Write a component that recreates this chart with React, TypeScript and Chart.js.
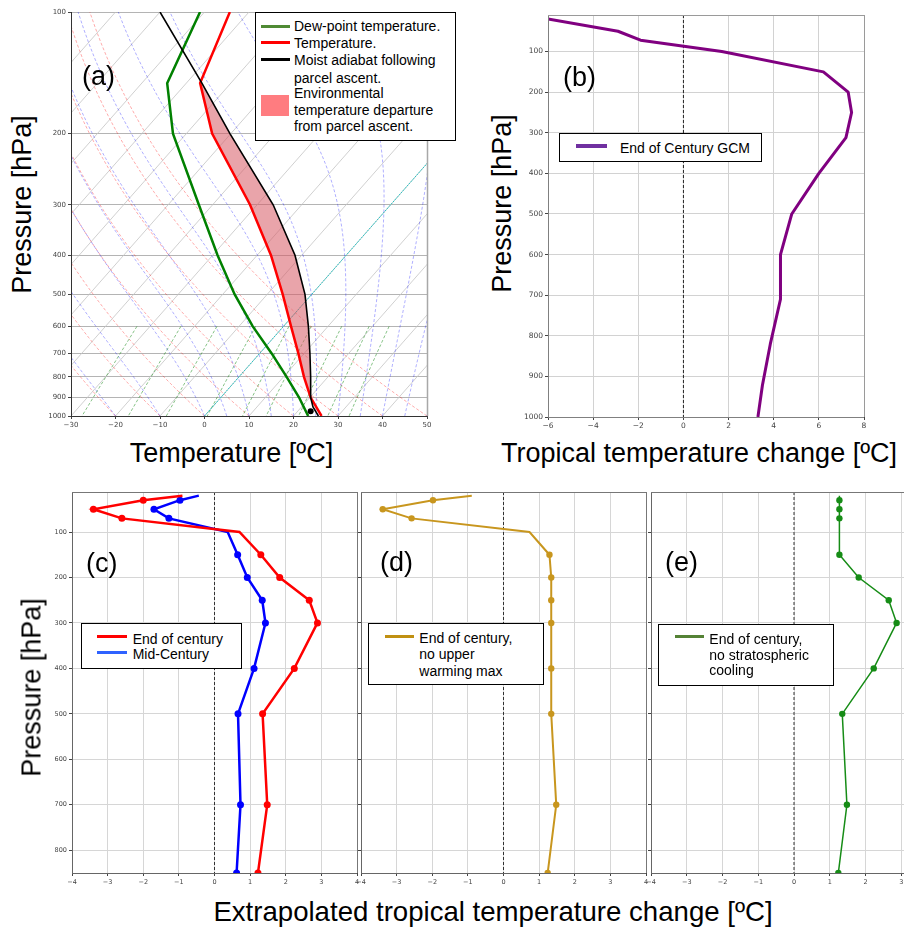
import React, { useEffect, useRef } from 'react';
import { Chart, registerables } from 'chart.js';

Chart.register(...registerables);

// ---------------- Panel (a): skew-T sounding ----------------
const SOUNDING_P = [1000, 900, 800, 700, 600, 500, 400, 300, 200, 150, 100];
const SOUNDING_T = [26.3, 20.2, 14.6, 8.7, 1.7, -6.5, -16.9, -31.6, -54.2, -66.9, -74.3];
const SOUNDING_TD = [23.3, 17.6, 10.7, 2.7, -6.9, -17.3, -28.9, -43.1, -63.0, -74.3, -81.0];
const PARCEL_P = [1000, 950, 900, 800, 700, 600, 500, 400, 300, 200, 150, 100];
const PARCEL_T = [25.6, 22.6, 20.2, 16.1, 11.3, 5.6, -1.5, -11.5, -26.4, -50.2, -66.5, -90.0];
const LCL_P = [973];
const LCL_T = [22.9];
const DEPARTURE_TOP = 150;
const DEPARTURE_BOTTOM = 900;
const SKEW_X_TICKS = [-30, -20, -10, 0, 10, 20, 30, 40, 50];
const SKEW_P_TICKS = [100, 200, 300, 400, 500, 600, 700, 800, 900, 1000];
const ISOTHERMS = [-110, -100, -90, -80, -70, -60, -50, -40, -30, -20, -10, 0, 10, 20, 30, 40, 50];
const DRY_ADIABAT_T0 = [-30, -20, -10, 0, 10, 20, 30, 40, 50];
const MOIST_ADIABAT_T0 = [-30, -20, -10, 0, 5, 10, 15, 20, 25, 30, 35, 40, 45, 50];
const MIXING_RATIOS = [0.0004, 0.001, 0.002, 0.004, 0.007, 0.01, 0.016, 0.024, 0.032];
const MIXING_P = [600, 650, 700, 750, 800, 850, 900, 950, 1000];

// ---------------- Panel (b): GCM profile ----------------
const GCM_P = [20, 50, 72, 100, 150, 200, 250, 312, 400, 500, 600, 710, 820, 922, 1000];
const GCM_DT = [-6.0, -2.9, -1.9, 1.7, 6.2, 7.3, 7.45, 7.2, 6.0, 4.8, 4.3, 4.3, 3.85, 3.5, 3.3];
const GCM_X_TICKS = [-6, -4, -2, 0, 2, 4, 6, 8];
const GCM_P_TICKS = [100, 200, 300, 400, 500, 600, 700, 800, 900, 1000];

// ---------------- Panels (c)-(e): extrapolated profiles ----------------
const LEVELS = [20, 30, 50, 70, 100, 150, 200, 250, 300, 400, 500, 700, 850];
const MARKED_LEVELS = [30, 50, 70, 150, 200, 250, 300, 400, 500, 700, 850];
const END_CENTURY = [-0.9, -2.0, -3.4, -2.6, 0.7, 1.3, 1.83, 2.66, 2.89, 2.24, 1.35, 1.48, 1.22];
const MID_CENTURY = [-0.44, -0.97, -1.7, -1.28, 0.37, 0.65, 0.92, 1.34, 1.43, 1.11, 0.66, 0.73, 0.62];
const NO_UPPER_MAX = [-0.89, -1.98, -3.39, -2.58, 0.73, 1.29, 1.34, 1.34, 1.34, 1.34, 1.34, 1.48, 1.24];
const NO_STRAT_COOLING = [1.27, 1.27, 1.27, 1.27, 1.27, 1.27, 1.81, 2.65, 2.87, 2.23, 1.35, 1.48, 1.24];
const EXT_X_TICKS = [-4, -3, -2, -1, 0, 1, 2, 3, 4];
const EXT_P_TICKS = [100, 200, 300, 400, 500, 600, 700, 800];

// ---------------- helpers ----------------
const SKEW = 80; // degC of x shift per decade of pressure (45deg in axes coords)
const RD = 287.04749, CPD = 1004.6662, LV = 2.50084e6, EPS = 0.6219569;
const TICK_FONT = '"DejaVu Sans", sans-serif';
const TEXT_FONT = '"Liberation Sans", Arial, sans-serif';
const CLEAR = 'rgba(0,0,0,0)';

const skewPt = (p: number, t: number) => ({ x: t + SKEW * Math.log10(1000 / p), y: p });
const fmt = (v: number) => (v < 0 ? '\u2212' + Math.abs(v) : String(v));

function satMix(p: number, tK: number) {
  const tc = tK - 273.15;
  const es = 6.112 * Math.exp((17.67 * tc) / (tc + 243.5));
  return (EPS * es) / (p - es);
}
function moistDTdp(p: number, tK: number) {
  const rs = satMix(p, tK);
  return (RD * tK + LV * rs) / (CPD + (LV * LV * rs * EPS) / (RD * tK * tK)) / p;
}
function moistAdiabat(t0: number) {
  let T = t0 + 273.15;
  let p = 1000;
  const h = -10;
  const pts = [skewPt(p, t0)];
  while (p > 100) {
    const k1 = moistDTdp(p, T);
    const k2 = moistDTdp(p + h / 2, T + (h / 2) * k1);
    const k3 = moistDTdp(p + h / 2, T + (h / 2) * k2);
    const k4 = moistDTdp(p + h, T + h * k3);
    T += (h / 6) * (k1 + 2 * k2 + 2 * k3 + k4);
    p += h;
    pts.push(skewPt(p, T - 273.15));
  }
  return pts;
}
function dryAdiabat(t0: number) {
  const pts = [];
  for (let p = 1000; p >= 100; p -= 10) {
    pts.push(skewPt(p, (t0 + 273.15) * Math.pow(p / 1000, RD / CPD) - 273.15));
  }
  return pts;
}
function mixingLine(w: number) {
  return MIXING_P.map((p) => {
    const e = (p * w) / (EPS + w);
    const v = Math.log(e / 6.112);
    return skewPt(p, (243.5 * v) / (17.67 - v));
  });
}

const lineDs = (data: any[], color: string, width: number, extra: any = {}) => ({
  data,
  borderColor: color,
  backgroundColor: color,
  borderWidth: width,
  pointRadius: 0,
  fill: false,
  ...extra,
});

const framePlugin = {
  id: 'frame',
  afterDatasetsDraw(chart: any, _a: any, opts: any) {
    const { left, right, top, bottom } = chart.chartArea;
    const ctx = chart.ctx;
    const a = (v: number) => Math.round(v) + 0.5;
    const sides: [string, number, number, number, number][] = [
      ['left', a(left), top, a(left), bottom],
      ['right', a(right), top, a(right), bottom],
      ['top', left, a(top), right, a(top)],
      ['bottom', left, a(bottom), right, a(bottom)],
    ];
    ctx.save();
    for (const [k, x1, y1, x2, y2] of sides) {
      const c = opts && opts[k];
      if (!c) continue;
      ctx.strokeStyle = c;
      ctx.lineWidth = (opts.widths && opts.widths[k]) || 1;
      ctx.beginPath();
      ctx.moveTo(x1, y1);
      ctx.lineTo(x2, y2);
      ctx.stroke();
    }
    ctx.restore();
  },
};

function xAxis(o: any) {
  return {
    type: 'linear',
    min: o.min,
    max: o.max,
    afterBuildTicks: (s: any) => {
      s.ticks = o.ticks.map((v: number) => ({ value: v }));
    },
    afterFit: (s: any) => {
      s.height = 16;
    },
    ticks: {
      font: { family: TICK_FONT, size: o.font },
      color: '#444',
      padding: 2,
      maxRotation: 0,
      minRotation: 0,
      autoSkip: false,
      callback: (v: any) => fmt(Number(v)),
    },
    grid: {
      color: o.grid || CLEAR,
      drawOnChartArea: !!o.grid,
      tickColor: '#444',
      tickLength: 3,
      lineWidth: 1,
    },
    border: { display: false },
  };
}

function yAxis(o: any) {
  return {
    type: o.type,
    min: o.min,
    max: o.max,
    reverse: true,
    afterBuildTicks: (s: any) => {
      s.ticks = o.ticks.map((v: number) => ({ value: v }));
    },
    afterFit: (s: any) => {
      s.width = o.width;
    },
    ticks: {
      display: o.labels,
      font: { family: TICK_FONT, size: o.font },
      color: '#444',
      padding: 2,
      autoSkip: false,
      callback: (v: any) => String(v),
    },
    grid: { color: o.grid || CLEAR, tickColor: '#444', tickLength: 3, lineWidth: 1 },
    border: { display: false },
  };
}

function baseOptions(scales: any, frame: any) {
  return {
    responsive: false,
    animation: false,
    devicePixelRatio: 1,
    events: [],
    layout: { padding: { top: 10, right: 8, left: 0, bottom: 0 } },
    plugins: { legend: { display: false }, tooltip: { enabled: false }, frame },
    scales,
  };
}

function makeSkewT() {
  const layers: any[] = []; // bottom to top
  ISOTHERMS.forEach((t) => layers.push(lineDs([skewPt(1000, t), skewPt(100, t)], '#c4c4c4', 0.8)));
  DRY_ADIABAT_T0.forEach((t) =>
    layers.push(lineDs(dryAdiabat(t), 'rgba(255,0,0,0.42)', 0.8, { borderDash: [3, 2] }))
  );
  MOIST_ADIABAT_T0.forEach((t) =>
    layers.push(lineDs(moistAdiabat(t), 'rgba(0,0,255,0.4)', 0.8, { borderDash: [3, 2] }))
  );
  MIXING_RATIOS.forEach((w) =>
    layers.push(lineDs(mixingLine(w), 'rgba(0,128,0,0.6)', 0.8, { borderDash: [3, 2] }))
  );
  layers.push(lineDs([skewPt(1000, 0), skewPt(100, 0)], 'rgba(0,190,190,0.9)', 0.9, { borderDash: [2, 1] }));

  const parcelPart = PARCEL_P.map((p, i) => ({ p, t: PARCEL_T[i] })).filter(
    (d) => d.p >= DEPARTURE_TOP && d.p <= DEPARTURE_BOTTOM
  );
  const envPart = SOUNDING_P.map((p, i) => ({ p, t: SOUNDING_T[i] }))
    .filter((d) => d.p >= DEPARTURE_TOP && d.p <= DEPARTURE_BOTTOM)
    .reverse();
  const polygon = [...parcelPart, ...envPart].map((d) => skewPt(d.p, d.t));
  layers.push(lineDs(polygon, CLEAR, 1, { fill: 'shape', backgroundColor: 'rgba(215,90,100,0.55)' }));

  layers.push(lineDs(SOUNDING_P.map((p, i) => skewPt(p, SOUNDING_TD[i])), '#008000', 2.5));
  layers.push(lineDs(SOUNDING_P.map((p, i) => skewPt(p, SOUNDING_T[i])), '#ff0000', 2.5));
  layers.push(lineDs(PARCEL_P.map((p, i) => skewPt(p, PARCEL_T[i])), '#000000', 1.6));
  layers.push(
    lineDs(LCL_P.map((p, i) => skewPt(p, LCL_T[i])), '#000', 0, {
      showLine: false,
      pointRadius: 3,
      pointBorderWidth: 0,
      pointBackgroundColor: '#000',
    })
  );
  return {
    type: 'line',
    data: { datasets: layers.reverse() },
    options: baseOptions(
      {
        x: xAxis({ min: -30, max: 50, ticks: SKEW_X_TICKS, font: 7 }),
        y: yAxis({ type: 'logarithmic', min: 100, max: 1000, ticks: SKEW_P_TICKS, labels: true, font: 7, width: 30, grid: '#b4b4b4' }),
      },
      { left: '#333', bottom: '#333', right: '#a8a8a8', widths: { right: 1.5 } }
    ),
    plugins: [framePlugin],
  };
}

function makeGcm() {
  return {
    type: 'line',
    data: {
      datasets: [
        lineDs(GCM_P.map((p, i) => ({ x: GCM_DT[i], y: p })), '#800080', 3, { borderJoinStyle: 'round' }),
        lineDs([{ x: 0, y: 10 }, { x: 0, y: 1000 }], '#222', 1, { borderDash: [3, 2] }),
      ],
    },
    options: baseOptions(
      {
        x: xAxis({ min: -6, max: 8, ticks: GCM_X_TICKS, font: 7.5, grid: '#d2d2d2' }),
        y: yAxis({ type: 'linear', min: 10, max: 1000, ticks: GCM_P_TICKS, labels: true, font: 7.5, width: 30, grid: '#d2d2d2' }),
      },
      { left: '#808080', bottom: '#808080', right: '#9a9a9a', top: '#9a9a9a' }
    ),
    plugins: [framePlugin],
  };
}

function profileDs(values: number[], color: string, width: number, radius: number) {
  return lineDs(LEVELS.map((p, i) => ({ x: values[i], y: p })), color, width, {
    pointRadius: (ctx: any) => (MARKED_LEVELS.includes(LEVELS[ctx.dataIndex]) ? radius : 0),
    pointBorderWidth: 0,
    pointBackgroundColor: color,
  });
}

function makeExtrap(series: any[], showYLabels: boolean) {
  return {
    type: 'line',
    data: {
      datasets: [
        ...series.map((s) => profileDs(s.values, s.color, s.width, s.radius)),
        lineDs([{ x: 0, y: 12 }, { x: 0, y: 850 }], '#333', 1, { borderDash: [3, 2] }),
      ],
    },
    options: baseOptions(
      {
        x: xAxis({ min: -4, max: 4, ticks: EXT_X_TICKS, font: 6.5, grid: '#d6d6d6' }),
        y: yAxis({ type: 'linear', min: 12, max: 850, ticks: EXT_P_TICKS, labels: showYLabels, font: 6.5, width: showYLabels ? 30 : 10, grid: '#d6d6d6' }),
      },
      { left: '#666', bottom: '#666', right: '#777', top: '#777' }
    ),
    plugins: [framePlugin],
  };
}

function ChartCanvas({ left, top, width, height, make }: any) {
  const ref = useRef<HTMLCanvasElement>(null);
  useEffect(() => {
    const chart = new Chart(ref.current as HTMLCanvasElement, make());
    return () => chart.destroy();
  }, []);
  return (
    <canvas ref={ref} width={width} height={height} style={{ position: 'absolute', left, top, width, height }} />
  );
}

function Text({ children, left, baseline, size = 14, width, align = 'left' }: any) {
  const style: any = {
    position: 'absolute',
    left,
    top: baseline - 0.8465 * size,
    fontSize: size,
    lineHeight: size + 'px',
    height: size,
    whiteSpace: 'nowrap',
    fontFamily: TEXT_FONT,
  };
  if (width !== undefined) {
    style.width = width;
    style.textAlign = align;
  }
  return <div style={style}>{children}</div>;
}

function VText({ children, cx, cy, size = 27 }: any) {
  const w = 320;
  return (
    <div
      style={{
        position: 'absolute',
        left: cx - w / 2,
        top: cy - size / 2,
        width: w,
        height: size,
        lineHeight: size + 'px',
        fontSize: size,
        textAlign: 'center',
        whiteSpace: 'nowrap',
        fontFamily: TEXT_FONT,
        transform: 'rotate(-90deg)',
        transformOrigin: 'center center',
      }}
    >
      {children}
    </div>
  );
}

function Box({ left, top, width, height }: any) {
  return (
    <div
      style={{
        position: 'absolute',
        left,
        top,
        width,
        height,
        boxSizing: 'border-box',
        border: '1px solid #000',
        background: '#fff',
      }}
    />
  );
}

function Swatch({ x1, x2, y, color, thick = 3 }: any) {
  return (
    <div style={{ position: 'absolute', left: x1, top: y - thick / 2, width: x2 - x1, height: thick, background: color }} />
  );
}

export default function App() {
  return (
    <div
      style={{
        position: 'absolute',
        left: 0,
        top: 0,
        width: 904,
        height: 928,
        overflow: 'hidden',
        background: '#fff',
        color: '#000',
        fontFamily: TEXT_FONT,
      }}
    >
      <ChartCanvas left={41} top={2} width={394} height={430} make={makeSkewT} />
      <ChartCanvas left={518} top={5} width={354} height={428} make={makeGcm} />
      <ChartCanvas
        left={42}
        top={482}
        width={323}
        height={407}
        make={() =>
          makeExtrap(
            [
              { values: END_CENTURY, color: '#ff0000', width: 2.5, radius: 3.5 },
              { values: MID_CENTURY, color: '#0000ff', width: 2.5, radius: 3.5 },
            ],
            true
          )
        }
      />
      <ChartCanvas
        left={351}
        top={482}
        width={303}
        height={407}
        make={() => makeExtrap([{ values: NO_UPPER_MAX, color: '#c8961e', width: 2, radius: 3.2 }], false)}
      />
      <ChartCanvas
        left={641}
        top={482}
        width={304}
        height={407}
        make={() => makeExtrap([{ values: NO_STRAT_COOLING, color: '#168c16', width: 1.5, radius: 3.2 }], false)}
      />

      {/* panel labels */}
      <Text left={82} baseline={86} size={27}>(a)</Text>
      <Text left={563} baseline={87} size={27}>(b)</Text>
      <Text left={86} baseline={572.5} size={27}>(c)</Text>
      <Text left={380} baseline={571.5} size={27}>(d)</Text>
      <Text left={665} baseline={572} size={27}>(e)</Text>

      {/* axis titles */}
      <VText cx={22.3} cy={204}>Pressure [hPa]</VText>
      <VText cx={502.3} cy={203}>Pressure [hPa]</VText>
      <VText cx={32.3} cy={687}>Pressure [hPa]</VText>
      <Text left={31.5} width={400} align="center" baseline={463} size={27}>Temperature [ºC]</Text>
      <Text left={449} width={500} align="center" baseline={463} size={27}>Tropical temperature change [ºC]</Text>
      <Text left={93} width={800} align="center" baseline={921} size={27.6}>Extrapolated tropical temperature change [ºC]</Text>

      {/* legend (a) */}
      <Box left={255} top={12} width={201} height={129} />
      <Swatch x1={261} x2={290} y={26} color="#4f8a34" />
      <Text left={294} baseline={30.7}>Dew-point temperature.</Text>
      <Swatch x1={261} x2={290} y={42.7} color="#ff0000" />
      <Text left={294} baseline={47.5}>Temperature.</Text>
      <Swatch x1={261} x2={290} y={59.3} color="#000000" />
      <Text left={294} baseline={65}>Moist adiabat following</Text>
      <Text left={294} baseline={82.5}>parcel ascent.</Text>
      <div style={{ position: 'absolute', left: 261, top: 95, width: 28, height: 21, background: '#ff7c80' }} />
      <Text left={294} baseline={97.5}>Environmental</Text>
      <Text left={294} baseline={114.8}>temperature departure</Text>
      <Text left={294} baseline={130.7}>from parcel ascent.</Text>

      {/* legend (b) */}
      <Box left={559} top={133} width={203} height={29} />
      <Swatch x1={576} x2={607} y={146} color="#7030a0" thick={4} />
      <Text left={620} baseline={153.3}>End of Century GCM</Text>

      {/* legend (c) */}
      <Box left={81} top={623} width={161} height={46} />
      <Swatch x1={97} x2={127} y={636.7} color="#ff0000" />
      <Text left={132.7} baseline={644.3}>End of century</Text>
      <Swatch x1={97} x2={127} y={652.7} color="#2f62ff" />
      <Text left={132.7} baseline={659.3}>Mid-Century</Text>

      {/* legend (d) */}
      <Box left={368} top={623} width={176} height={62} />
      <Swatch x1={385} x2={414} y={636} color="#c09012" />
      <Text left={419.3} baseline={643.3}>End of century,</Text>
      <Text left={419.3} baseline={659}>no upper</Text>
      <Text left={419.3} baseline={675.7}>warming max</Text>

      {/* legend (e) */}
      <Box left={658} top={624} width={176} height={62} />
      <Swatch x1={675} x2={704} y={636.7} color="#548235" />
      <Text left={709.3} baseline={644}>End of century,</Text>
      <Text left={709.3} baseline={660}>no stratospheric</Text>
      <Text left={709.3} baseline={675}>cooling</Text>
    </div>
  );
}
